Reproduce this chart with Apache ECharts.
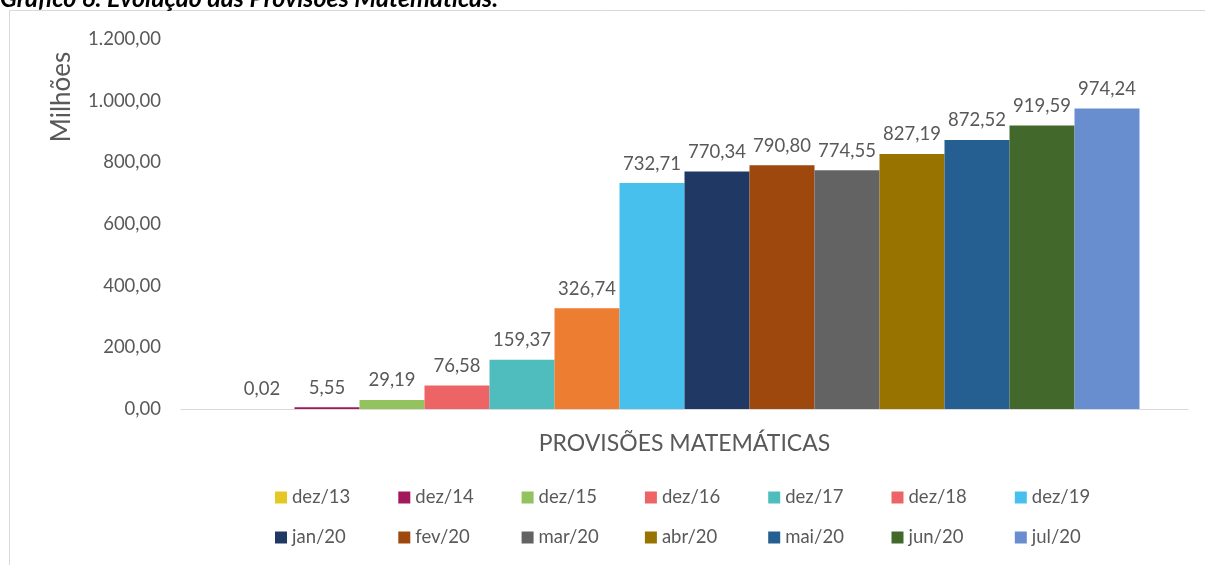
<!DOCTYPE html>
<html><head><meta charset="utf-8">
<script src="https://cdn.jsdelivr.net/npm/echarts@6/dist/echarts.min.js"></script>
<style>html,body{margin:0;padding:0;background:#fff}#c{width:1205px;height:565px}</style>
</head><body><div id="c"></div>
<script>
const category = ['PROVISÕES MATEMÁTICAS'];
const seriesNames = ['dez/13','dez/14','dez/15','dez/16','dez/17','dez/18','dez/19','jan/20','fev/20','mar/20','abr/20','mai/20','jun/20','jul/20'];
const seriesValues = [0.02, 5.55, 29.19, 76.58, 159.37, 326.74, 732.71, 770.34, 790.80, 774.55, 827.19, 872.52, 919.59, 974.24];
const barColors = ['#E6C824','#A2185B','#92C35F','#ED6466','#4FBDBE','#ED7D31','#48C0EE','#1F3864','#9E480E','#636363','#997300','#255E91','#43682B','#698ED0'];
const legendColors = ['#E6C824','#A2185B','#92C35F','#ED6466','#4FBDBE','#ED6466','#48C0EE','#1F3864','#9E480E','#636363','#997300','#255E91','#43682B','#698ED0'];
const yTicks = [0, 200, 400, 600, 800, 1000, 1200];

const FONT = 'Lato, "Open Sans", sans-serif';
const fmt = (v, d) => v.toLocaleString('pt-BR', {minimumFractionDigits: d, maximumFractionDigits: d});

const chart = echarts.init(document.getElementById('c'));
const legends = seriesNames.map((n, i) => ({
  data: [{name: n, itemStyle: {color: legendColors[i]}}],
  left: 275 + (i % 7) * 123.3,
  top: (i < 7 ? 488 : 528),
  itemWidth: 12, itemHeight: 12, itemGap: 0,
  icon: 'rect',
  selectedMode: false,
  textStyle: {fontFamily: FONT, fontSize: 18.5, color: '#595959', padding: [0, 0, 0, 0]},
  padding: 0
}));
chart.setOption({
  animation: false,
  textStyle: {fontFamily: FONT},
  graphic: [
    {type: 'rect', shape: {x: 9.5, y: 10.5, width: 1400, height: 700}, style: {fill: 'none', stroke: '#D9D9D9', lineWidth: 1}, z: -1},
    {type: 'text', x: 0, y: -14, style: {text: 'Gráfico 6: Evolução das Provisões Matemáticas.', font: 'italic bold 25px ' + FONT, fill: '#000', verticalAlign: 'top'}},
    {type: 'text', x: 62, y: 97, rotation: Math.PI / 2, style: {text: 'Milhões', font: '26px ' + FONT, fill: '#595959', align: 'center', verticalAlign: 'middle'}}
  ],
  grid: {left: 181, right: 17, top: 39, bottom: 156},
  legend: legends,
  xAxis: {
    type: 'category', data: category,
    axisLine: {lineStyle: {color: '#D9D9D9'}},
    axisTick: {show: false},
    axisLabel: {fontFamily: FONT, fontSize: 23, color: '#595959', margin: 23}
  },
  yAxis: {
    type: 'value', min: 0, max: 1200, interval: 200,
    splitLine: {show: false},
    axisLine: {show: false}, axisTick: {show: false},
    axisLabel: {fontFamily: FONT, fontSize: 18.5, color: '#595959', margin: 20,
      formatter: v => yTicks.includes(v) ? fmt(v, 2) : ''}
  },
  series: seriesNames.map((n, i) => ({
    name: n, type: 'bar', data: [seriesValues[i]],
    barWidth: 65, barGap: '0%',
    itemStyle: {color: barColors[i]},
    label: {show: true, position: 'top', distance: 10, fontFamily: FONT, fontSize: 18.5, color: '#595959',
      formatter: p => fmt(p.value, 2)}
  }))
});
</script></body></html>
